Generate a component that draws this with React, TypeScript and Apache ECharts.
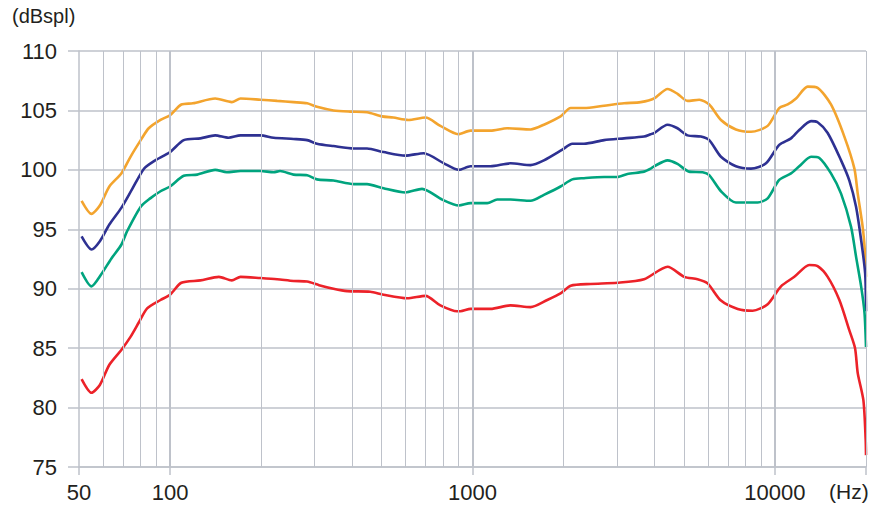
import React, { useEffect, useRef } from "react";
import * as echarts from "echarts";

// Frequency response data: [frequency Hz, level dBspl]
const orangeData: [number, number][] = [
  [51, 97.4], [55, 96.3], [58.6, 97.0], [63, 98.6], [69, 99.7], [74, 101.1], [80, 102.5], [85, 103.5],
  [93, 104.2], [100, 104.6], [109, 105.5], [119, 105.6], [141, 106.0], [160, 105.7], [171, 106.0],
  [199, 105.9], [226, 105.8], [256, 105.7], [284, 105.6], [306, 105.3], [347, 105.0], [394, 104.9],
  [448, 104.85], [502, 104.5], [547, 104.4], [614, 104.2], [699, 104.4], [783, 103.7], [897, 103.0],
  [985, 103.3], [1147, 103.3], [1303, 103.5], [1556, 103.4], [1722, 103.8], [1955, 104.5], [2112, 105.2],
  [2336, 105.2], [2723, 105.4], [3170, 105.6], [3599, 105.7], [3984, 106.0], [4415, 106.8], [4762, 106.4],
  [5140, 105.8], [5620, 105.9], [6063, 105.5], [6629, 104.2], [7430, 103.4], [8335, 103.2], [9460, 103.7],
  [10330, 105.2], [11020, 105.5], [11740, 106.0], [12830, 107.0], [13840, 106.9], [15320, 105.5],
  [16960, 102.8], [18310, 100.1], [18780, 98.0], [19500, 95.2], [19850, 93.0], [20000, 91.0],
];

const blueData: [number, number][] = [
  [51, 94.4], [55, 93.3], [58.6, 94.0], [63, 95.4], [69, 96.8], [75, 98.4], [82, 100.1], [88, 100.7],
  [100, 101.5], [111, 102.5], [126, 102.65], [141, 102.9], [156, 102.7], [171, 102.9], [199, 102.9],
  [220, 102.7], [256, 102.6], [284, 102.5], [306, 102.2], [347, 102.0], [405, 101.8], [448, 101.8],
  [508, 101.5], [600, 101.2], [690, 101.4], [804, 100.55], [901, 100.0], [985, 100.3], [1147, 100.3],
  [1336, 100.55], [1556, 100.4], [1722, 100.8], [1982, 101.7], [2138, 102.2], [2336, 102.2], [2723, 102.5],
  [3170, 102.65], [3692, 102.8], [3882, 103.0], [3984, 103.1], [4415, 103.8], [4762, 103.5], [5140, 102.9],
  [5690, 102.8], [6063, 102.5], [6629, 101.1], [7430, 100.3], [8335, 100.1], [9340, 100.55], [10330, 102.1],
  [11300, 102.65], [12030, 103.35], [13160, 104.1], [13840, 104.0], [14940, 103.1], [16540, 100.8],
  [17620, 99.1], [18540, 96.9], [19270, 94.1], [19870, 91.3], [20000, 88.1],
];

const greenData: [number, number][] = [
  [51, 91.4], [55, 90.2], [59, 91.15], [64, 92.55], [69, 93.7], [72, 94.8], [80, 96.9], [86, 97.6],
  [93, 98.2], [100, 98.6], [111, 99.5], [123, 99.6], [141, 100.0], [154, 99.8], [171, 99.9], [199, 99.9],
  [220, 99.8], [231, 99.9], [256, 99.6], [284, 99.55], [306, 99.2], [347, 99.1], [405, 98.8], [448, 98.8],
  [508, 98.45], [600, 98.1], [681, 98.4], [794, 97.5], [901, 97.0], [985, 97.2], [1119, 97.2], [1207, 97.5],
  [1336, 97.5], [1556, 97.4], [1722, 97.9], [1955, 98.6], [2138, 99.2], [2336, 99.3], [2723, 99.4],
  [3014, 99.4], [3252, 99.65], [3692, 99.85], [3882, 100.1], [3984, 100.3], [4415, 100.8], [4762, 100.5],
  [5200, 99.85], [5766, 99.8], [6063, 99.55], [6629, 98.2], [7430, 97.25], [8770, 97.25], [9460, 97.6],
  [10330, 99.15], [11300, 99.7], [12030, 100.3], [13160, 101.1], [14020, 101.0], [15320, 99.7],
  [16540, 98.0], [17850, 95.2], [18540, 92.7], [19270, 90.2], [19770, 88.0], [20000, 85.1],
];

const redData: [number, number][] = [
  [51, 82.4], [55, 81.25], [58.6, 81.9], [63, 83.6], [69, 84.85], [74, 85.95], [79, 87.2], [84, 88.35],
  [93, 89.05], [100, 89.5], [109, 90.5], [126, 90.7], [145, 91.0], [160, 90.7], [171, 91.0], [199, 90.9],
  [226, 90.8], [256, 90.65], [284, 90.6], [311, 90.3], [347, 90.0], [385, 89.8], [459, 89.75], [508, 89.5],
  [608, 89.2], [699, 89.4], [783, 88.6], [890, 88.1], [912, 88.1], [985, 88.3], [1147, 88.3], [1336, 88.6],
  [1556, 88.45], [1766, 89.05], [1955, 89.6], [2112, 90.25], [2459, 90.4], [3014, 90.5], [3692, 90.8],
  [4415, 91.85], [5010, 91.0], [5546, 90.8], [5987, 90.45], [6629, 89.0], [7530, 88.3], [8440, 88.15],
  [9460, 88.7], [10470, 90.2], [11590, 91.0], [12990, 92.0], [13840, 91.9], [14940, 91.0], [16330, 89.05],
  [17620, 86.5], [18400, 85.0], [18780, 82.9], [19610, 80.6], [19950, 77.3], [20000, 76.0],
];

const xLabelTicks = [50, 100, 1000, 10000];
const minorFreqs = [
  60, 70, 80, 90, 200, 300, 400, 500, 600, 700, 800, 900,
  2000, 3000, 4000, 5000, 6000, 7000, 8000, 9000, 20000,
];
const decadeFreqs = [100, 1000, 10000];

const seriesColors = ["#f3a42e", "#2e3192", "#00a47e", "#ec2229"];
const FONT = 'Arial, "Liberation Sans", sans-serif';
const GRID = "#bec2ca";

export default function App() {
  const ref = useRef<HTMLDivElement>(null);
  useEffect(() => {
    if (!ref.current) return;
    const chart = echarts.init(ref.current, undefined, { renderer: "svg" });
    const lineSeries = [orangeData, blueData, greenData, redData].map((d, i) => ({
      type: "line" as const,
      data: d,
      showSymbol: false,
      symbol: "none",
      smooth: 0.25,
      z: 3,
      lineStyle: { color: seriesColors[i], width: 2.6 },
      itemStyle: { color: seriesColors[i] },
    }));
    chart.setOption({
      animation: false,
      grid: { left: 79, right: 22, top: 51, bottom: 43 },
      xAxis: {
        type: "log",
        logBase: 10,
        min: 50,
        max: 20000,
        axisLine: { show: true, lineStyle: { color: GRID, width: 1.5 } },
        axisTick: { show: true, length: 8, lineStyle: { color: GRID, width: 1.5 } },
        splitLine: { show: false },
        axisLabel: {
          fontFamily: FONT,
          fontSize: 22,
          color: "#231f20",
          margin: 14,
          formatter: (v: number) => {
            const r = Math.round(v);
            return xLabelTicks.includes(r) ? String(r) : "";
          },
        },
      },
      yAxis: {
        type: "value",
        min: 75,
        max: 110,
        interval: 5,
        axisLine: { show: true, lineStyle: { color: GRID, width: 1.5 } },
        axisTick: { show: true, length: 11, lineStyle: { color: GRID, width: 1.5 } },
        splitLine: { show: true, lineStyle: { color: GRID, width: 1.5 } },
        axisLabel: { fontFamily: FONT, fontSize: 22, color: "#231f20", margin: 22 },
      },
      graphic: [
        {
          type: "text",
          left: 12,
          top: 6,
          style: { text: "(dBspl)", fontFamily: FONT, fontSize: 20, fill: "#231f20" },
        },
        {
          type: "text",
          left: 829,
          top: 481,
          style: { text: "(Hz)", fontFamily: FONT, fontSize: 21, fill: "#231f20" },
        },
      ],
      series: [
        {
          type: "line",
          data: [],
          z: 1,
          silent: true,
          markLine: {
            silent: true,
            symbol: ["none", "none"],
            label: { show: false },
            animation: false,
            data: [
              ...minorFreqs.map((f) => ({ xAxis: f, lineStyle: { color: GRID, width: 1, type: "solid" } })),
              ...decadeFreqs.map((f) => ({ xAxis: f, lineStyle: { color: GRID, width: 2, type: "solid" } })),
            ],
          },
        },
        ...lineSeries,
      ],
    });
    return () => chart.dispose();
  }, []);
  return (
    <div
      ref={ref}
      style={{ position: "fixed", left: 0, top: 0, width: 888, height: 510, background: "#fff" }}
    />
  );
}
